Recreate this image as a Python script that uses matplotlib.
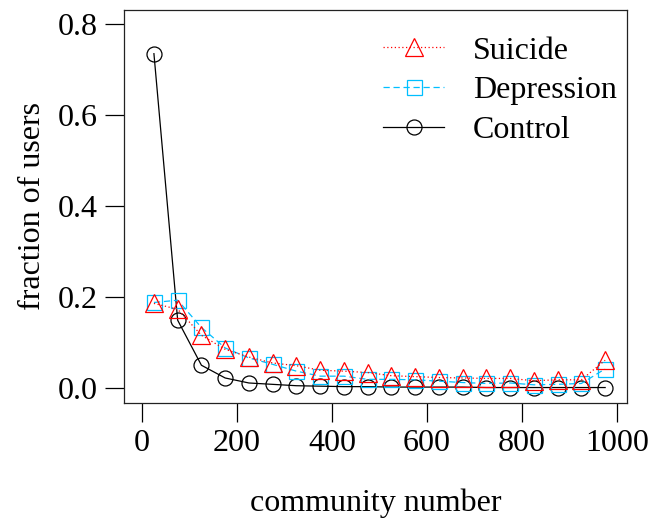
import matplotlib
matplotlib.use("Agg")
import matplotlib.pyplot as plt

community = [25, 75, 125, 175, 225, 275, 325, 375, 425, 475,
             525, 575, 625, 675, 725, 775, 825, 875, 925, 975]
suicide = [0.186, 0.173, 0.116, 0.085, 0.068, 0.055, 0.049, 0.039, 0.037, 0.034,
           0.027, 0.025, 0.023, 0.022, 0.021, 0.021, 0.016, 0.018, 0.018, 0.061]
depression = [0.188, 0.193, 0.133, 0.088, 0.066, 0.052, 0.037, 0.026, 0.026, 0.019,
              0.019, 0.018, 0.015, 0.012, 0.010, 0.011, 0.007, 0.008, 0.010, 0.042]
control = [0.735, 0.149, 0.050, 0.022, 0.011, 0.008, 0.005, 0.004, 0.003, 0.003,
           0.002, 0.002, 0.002, 0.002, 0.001, 0.001, 0.001, 0.001, 0.001, 0.001]
xticks = [0, 200, 400, 600, 800, 1000]
yticks = [0.0, 0.2, 0.4, 0.6, 0.8]
ytick_labels = ["0.0", "0.2", "0.4", "0.6", "0.8"]

plt.rcParams['font.family'] = ['Liberation Serif', 'DejaVu Serif']
FS = 23

fig = plt.figure(figsize=(6.55, 5.27), dpi=100)
ax = fig.add_axes([124/655, 1-403/527, (627-124)/655, (403-10)/527])

ax.plot(community, control, color='black', lw=0.9, marker='o', ms=10.8,
        mfc='none', mec='black', mew=0.9, label='Control', zorder=2)
ax.plot(community, depression, color='deepskyblue', lw=0.9, ls=(0, (5, 3)),
        marker='s', ms=10.8, mfc='none', mec='deepskyblue', mew=0.9,
        label='Depression', zorder=3)
ax.plot(community, suicide, color='red', lw=0.9, ls=(0, (1, 2)),
        marker='^', ms=13, mfc='none', mec='red', mew=0.9,
        label='Suicide', zorder=4)

ax.set_xlim(-38, 1021)
ax.set_ylim(-0.033, 0.831)
ax.set_xticks(xticks)
ax.set_xticklabels([str(v) for v in xticks])
ax.set_yticks(yticks)
ax.set_yticklabels(ytick_labels)
ax.tick_params(axis='both', labelsize=FS, length=14, width=0.9, direction='out', pad=5)
for s in ax.spines.values():
    s.set_linewidth(0.9)
    s.set_color('#222222')

ax.set_xlabel('community number', fontsize=FS, labelpad=21.5)
ax.set_ylabel('fraction of users', fontsize=FS, labelpad=7.5)

h, l = ax.get_legend_handles_labels()
order = [2, 1, 0]
ax.legend([h[i] for i in order], [l[i] for i in order], loc='upper right',
          bbox_to_anchor=(1.024, 0.99), frameon=False, fontsize=FS,
          handlelength=1.9, handletextpad=0.9, labelspacing=0.32,
          borderaxespad=0.3)

fig.savefig('out.png', dpi=100)
